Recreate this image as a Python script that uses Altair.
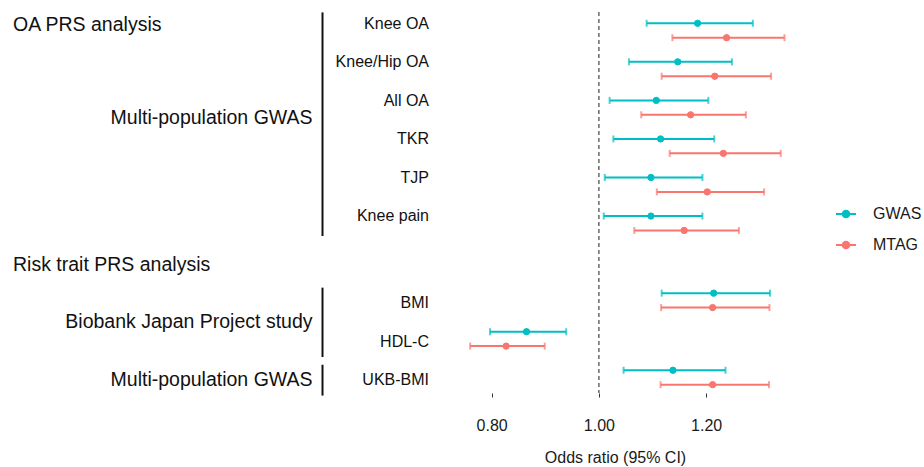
import altair as alt
import pandas as pd

# ---------------- data ----------------
traits = ["Knee OA", "Knee/Hip OA", "All OA", "TKR", "TJP", "Knee pain",
          "BMI", "HDL-C", "UKB-BMI"]
trait_group = [0, 0, 0, 0, 0, 0, 1, 1, 2]
groups = ["Multi-population GWAS", "Biobank Japan Project study", "Multi-population GWAS"]
group_section = [0, 1, 1]
sections = ["OA PRS analysis", "Risk trait PRS analysis"]
studies = ["GWAS", "MTAG"]

gwas_or = [1.184, 1.147, 1.107, 1.115, 1.097, 1.097, 1.214, 0.865, 1.138]
gwas_lo = [1.089, 1.056, 1.020, 1.027, 1.011, 1.009, 1.117, 0.797, 1.046]
gwas_hi = [1.287, 1.248, 1.204, 1.215, 1.193, 1.193, 1.319, 0.939, 1.236]
mtag_or = [1.238, 1.216, 1.171, 1.232, 1.202, 1.159, 1.212, 0.827, 1.212]
mtag_lo = [1.137, 1.117, 1.079, 1.132, 1.108, 1.066, 1.116, 0.760, 1.115]
mtag_hi = [1.346, 1.321, 1.274, 1.339, 1.308, 1.261, 1.318, 0.899, 1.317]

ref_value = [1.0]
x_ticks = [0.80, 1.00, 1.20]
colors = ["#00BFC4", "#F8766D"]

# ---------------- layout / style constants ----------------
FONT = "Liberation Sans"
DODGE = {"GWAS": -0.187, "MTAG": 0.187}
NUDGE = [-0.18, 0.07]
LINE_NUDGE = [-0.07, 0.07]
LINE_EXT = 0.40

row_of_trait = [i + group_section[trait_group[i]] for i in range(len(traits))]

est_rows = []
for i, t in enumerate(traits):
    for s, o, lo, hi in (("GWAS", gwas_or[i], gwas_lo[i], gwas_hi[i]),
                         ("MTAG", mtag_or[i], mtag_lo[i], mtag_hi[i])):
        est_rows.append({"trait": t, "study": s, "or": o, "lo": lo, "hi": hi,
                         "y": row_of_trait[i] + DODGE[s]})
est = pd.DataFrame(est_rows)

lab = pd.DataFrame({
    "trait": traits,
    "y": [row_of_trait[i] + NUDGE[group_section[trait_group[i]]] for i in range(len(traits))],
})

grp_rows = []
for g, name in enumerate(groups):
    rows = [row_of_trait[i] for i in range(len(traits)) if trait_group[i] == g]
    sec = group_section[g]
    mid = sum(rows) / len(rows)
    grp_rows.append({
        "label": name,
        "y": mid + NUDGE[sec] - (0.06 if sec == 0 else 0.0),
        "y1": min(rows) - LINE_EXT + LINE_NUDGE[sec],
        "y2": max(rows) + LINE_EXT + LINE_NUDGE[sec],
    })
grp = pd.DataFrame(grp_rows)

hdr_rows = []
for s, name in enumerate(sections):
    rows = [row_of_trait[i] for i in range(len(traits)) if group_section[trait_group[i]] == s]
    hdr_rows.append({"label": name, "y": min(rows) - min(s, 1) + NUDGE[s] + (0.04 if s == 0 else 0.0)})
hdr = pd.DataFrame(hdr_rows)

# ---------------- scales ----------------
xs = alt.Scale(domain=[0.70, 1.36], nice=False, zero=False)
ys = alt.Scale(domain=[-0.48, 9.403], reverse=True, nice=False, zero=False)
cs = alt.Scale(domain=studies, range=colors)

xaxis = alt.Axis(values=x_ticks, format=".2f", grid=False, domain=False,
                 tickColor="#333333", tickSize=4, tickWidth=1,
                 labelFont=FONT, labelFontSize=16, labelColor="#1a1a1a", labelPadding=20,
                 title="Odds ratio (95% CI)", titleFont=FONT, titleFontSize=16,
                 titleFontWeight="normal", titleColor="#1a1a1a", titlePadding=16)

# legend key: a horizontal line with a dot (dot drawn as concentric stroked rings)
SYM = ("M-1,0L1,0"
       "M-0.33,0A0.33,0.33,0,1,1,0.33,0A0.33,0.33,0,1,1,-0.33,0Z"
       "M-0.14,0A0.14,0.14,0,1,1,0.14,0A0.14,0.14,0,1,1,-0.14,0Z")
leg = alt.Legend(title=None, orient="none", legendX=397, legendY=191,
                 symbolType=SYM, symbolSize=400, symbolStrokeWidth=2,
                 labelFont=FONT, labelFontSize=16, labelColor="#1a1a1a",
                 labelOffset=16, rowPadding=12)

Y = alt.Y("y:Q", scale=ys, axis=None)

ref = alt.Chart(pd.DataFrame({"x": ref_value})).mark_rule(
    strokeDash=[4, 3], color="#444444", strokeWidth=1.2
).encode(x=alt.X("x:Q", scale=xs, axis=xaxis))

base = alt.Chart(est)
bars = base.mark_rule(strokeWidth=2).encode(
    x=alt.X("lo:Q", scale=xs, axis=xaxis), x2="hi:Q", y=Y,
    stroke=alt.Stroke("study:N", scale=cs, legend=leg))
cap_lo = base.mark_tick(orient="vertical", size=7, thickness=2).encode(
    x=alt.X("lo:Q", scale=xs), y=Y, color=alt.Color("study:N", scale=cs, legend=leg))
cap_hi = base.mark_tick(orient="vertical", size=7, thickness=2).encode(
    x=alt.X("hi:Q", scale=xs), y=Y, color=alt.Color("study:N", scale=cs, legend=leg))
pts = base.mark_point(filled=True, size=40, opacity=1, strokeWidth=1).encode(
    x=alt.X("or:Q", scale=xs), y=Y,
    fill=alt.Fill("study:N", scale=cs, legend=leg),
    stroke=alt.Stroke("study:N", scale=cs, legend=leg))

trait_txt = alt.Chart(lab).mark_text(align="right", baseline="middle", font=FONT,
                                     fontSize=16, color="#111111").encode(
    x=alt.value(-9), y=Y, text="trait:N")
grp_txt = alt.Chart(grp).mark_text(align="right", baseline="middle", font=FONT,
                                   fontSize=19.5, color="#111111").encode(
    x=alt.value(-125.5), y=Y, text="label:N")
grp_line = alt.Chart(grp).mark_rule(color="#111111", strokeWidth=2).encode(
    x=alt.value(-115.5), y=alt.Y("y1:Q", scale=ys, axis=None), y2="y2:Q")
hdr_txt = alt.Chart(hdr).mark_text(align="left", baseline="middle", font=FONT,
                                   fontSize=19.5, color="#111111").encode(
    x=alt.value(-425), y=Y, text="label:N")

chart = alt.layer(ref, bars, cap_lo, cap_hi, pts, trait_txt, grp_txt, grp_line, hdr_txt).properties(
    width=354, height=381,
    autosize=alt.AutoSizeParams(type="none"),
    padding={"left": 438, "top": 12, "right": 132, "bottom": 74},
    background="white",
).configure_view(stroke=None)

chart.save("out.html", embed_options={"renderer": "svg", "actions": False})
